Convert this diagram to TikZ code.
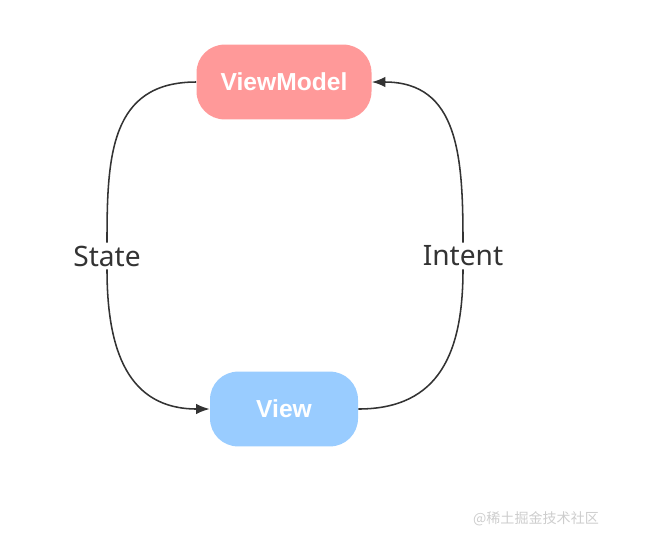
\documentclass[tikz,border=0pt]{standalone}
\usepackage{fontspec}
\setmainfont{Noto Sans}
\newfontfamily\boxfont{Liberation Sans}
\newfontfamily\cjkfont{Noto Sans CJK SC}
\usetikzlibrary{arrows.meta, positioning}
\definecolor{mviPink}{RGB}{255,153,153}
\definecolor{mviBlue}{RGB}{153,204,255}
\definecolor{mviInk}{RGB}{51,51,51}
\definecolor{mviMark}{RGB}{205,205,205}

\begin{document}
\begin{tikzpicture}[
      layer/.style={rounded corners=0.7cm, draw=none, minimum height=1.87cm,
      align=center, text=white, font=\boxfont\fontsize{17.5}{21}\selectfont\bfseries},
      flowlabel/.style={fill=white, inner sep=2pt, text=mviInk, font=\fontsize{20}{24}\selectfont},
      arrow/.style={-{Latex[length=3.4mm,width=2.6mm]}, line width=1.1pt, draw=mviInk}
    ]
    \useasboundingbox (0,0) rectangle (16.225,-13.525);
    \node[layer, fill=mviPink, minimum width=4.375cm] (viewmodel) at (7.1,-2.05) {ViewModel};
    \node[layer, fill=mviBlue, minimum width=3.7cm] (view) at (7.1,-10.225) {View};
    \node[flowlabel] (state) at (2.675,-6.4) {State};
    \node[flowlabel] (intent) at (11.575,-6.4) {Intent};
    \node[text=mviMark, font=\cjkfont\fontsize{10}{12}\selectfont] (mark) at (13.4,-12.975) {@稀土掘金技术社区};

    \draw[line width=1.1pt, draw=mviInk] (viewmodel.west) to[out=180, in=90, looseness=1.2] (state.north);
    \draw[arrow] (state.south) to[out=-90, in=180, looseness=1.2] (view.west);
    \draw[line width=1.1pt, draw=mviInk] (view.east) to[out=0, in=-90, looseness=1.2] (intent.south);
    \draw[arrow] (intent.north) to[out=90, in=0, looseness=1.2] (viewmodel.east);
  \end{tikzpicture}
\end{document}
